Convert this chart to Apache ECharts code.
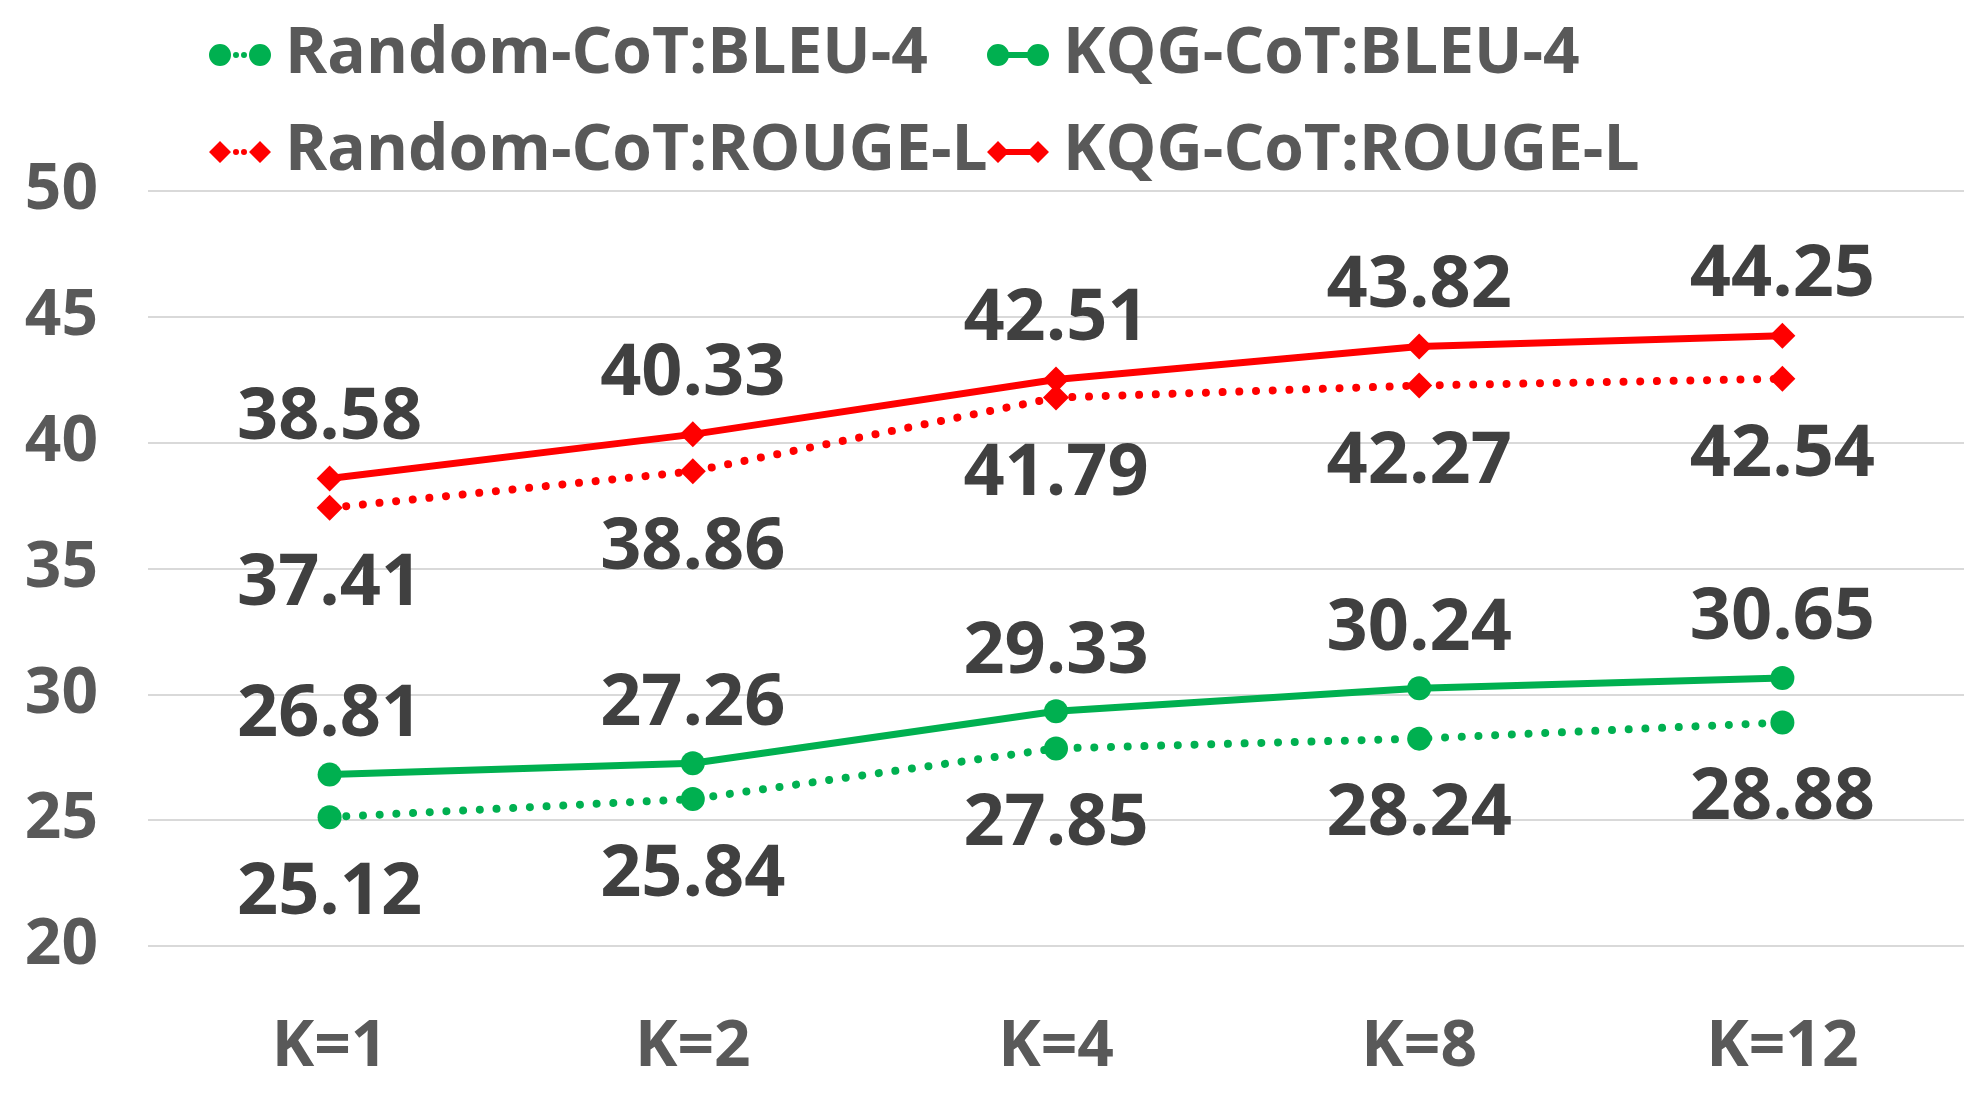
<!DOCTYPE html>
<html>
<head>
<meta charset="utf-8">
<script src="https://cdn.jsdelivr.net/npm/echarts@6/dist/echarts.min.js"></script>
<style>html,body{margin:0;padding:0;background:#fff}#c{width:1977px;height:1110px}</style>
</head>
<body>
<div id="c"></div>
<script>
const categories = ['K=1', 'K=2', 'K=4', 'K=8', 'K=12'];
const randomBleu = [25.12, 25.84, 27.85, 28.24, 28.88];
const kqgBleu = [26.81, 27.26, 29.33, 30.24, 30.65];
const randomRouge = [37.41, 38.86, 41.79, 42.27, 42.54];
const kqgRouge = [38.58, 40.33, 42.51, 43.82, 44.25];
const yTicks = [20, 25, 30, 35, 40, 45, 50];

const GREEN = '#00B050', RED = '#FF0000';
const FONT = 'Open Sans';
const dotDash = [0.01, 16.7];

const circ = (cx) => `M${cx-11},11A11,11,0,1,1,${cx+11},11A11,11,0,1,1,${cx-11},11Z`;
const dot = (cx) => `M${cx-3},11A3,3,0,1,1,${cx+3},11A3,3,0,1,1,${cx-3},11Z`;
const dia = (cx) => `M${cx-11},11L${cx},0L${cx+11},11L${cx},22Z`;
const bar = 'M11,8L51,8L51,14L11,14Z';
const icons = {
  gDot: 'path://' + circ(11) + dot(27) + dot(35) + circ(51),
  gSolid: 'path://' + circ(11) + bar + circ(51),
  rDot: 'path://' + dia(11) + dot(27) + dot(35) + dia(51),
  rSolid: 'path://' + dia(11) + bar + dia(51)
};

function mk(name, data, color, symbol, dotted, pos) {
  return {
    name, type: 'line', data,
    symbol, symbolSize: symbol === 'circle' ? 24 : 26,
    lineStyle: { color, width: dotted ? 8 : 7, type: dotted ? dotDash : 'solid', cap: 'round' },
    itemStyle: { color },
    label: {
      show: true, position: pos, distance: pos === 'top' ? 11 : 28,
      fontFamily: FONT, fontWeight: 'bold', fontSize: 72, lineHeight: 72, color: '#404040',
      formatter: (p) => p.value.toFixed(2)
    },
    emphasis: { disabled: true },
    animation: false
  };
}

const legendText = { fontFamily: FONT, fontWeight: 'bold', fontSize: 64, lineHeight: 74, color: '#595959', padding: [0, 0, 0, 9] };

const chart = echarts.init(document.getElementById('c'), null, { renderer: 'canvas' });
chart.setOption({
  backgroundColor: '#fff',
  animation: false,
  legend: [
    { orient: 'vertical', left: 209, top: 18, padding: 0, itemGap: 23, itemWidth: 62, itemHeight: 22,
      textStyle: legendText, selectedMode: false,
      data: [{ name: 'Random-CoT:BLEU-4', icon: icons.gDot }, { name: 'Random-CoT:ROUGE-L', icon: icons.rDot }] },
    { orient: 'vertical', left: 987, top: 18, padding: 0, itemGap: 23, itemWidth: 62, itemHeight: 22,
      textStyle: legendText, selectedMode: false,
      data: [{ name: 'KQG-CoT:BLEU-4', icon: icons.gSolid }, { name: 'KQG-CoT:ROUGE-L', icon: icons.rSolid }] }
  ],
  grid: { left: 148, right: 13, top: 191, bottom: 164, containLabel: false },
  xAxis: {
    type: 'category', data: categories, boundaryGap: true,
    axisLine: { show: false }, axisTick: { show: false },
    axisLabel: { margin: 66, fontFamily: FONT, fontWeight: 'bold', fontSize: 64, lineHeight: 72, color: '#595959' }
  },
  yAxis: {
    type: 'value', min: yTicks[0], max: yTicks[yTicks.length - 1], interval: 5,
    axisLine: { show: false }, axisTick: { show: false },
    splitLine: { lineStyle: { color: '#D9D9D9', width: 2 } },
    axisLabel: { margin: 50, fontFamily: FONT, fontWeight: 'bold', fontSize: 64, lineHeight: 64, padding: [20, 0, 0, 0], color: '#595959' }
  },
  series: [
    mk('Random-CoT:BLEU-4', randomBleu, GREEN, 'circle', true, 'bottom'),
    mk('KQG-CoT:BLEU-4', kqgBleu, GREEN, 'circle', false, 'top'),
    mk('Random-CoT:ROUGE-L', randomRouge, RED, 'diamond', true, 'bottom'),
    mk('KQG-CoT:ROUGE-L', kqgRouge, RED, 'diamond', false, 'top')
  ]
});
</script>
</body>
</html>
